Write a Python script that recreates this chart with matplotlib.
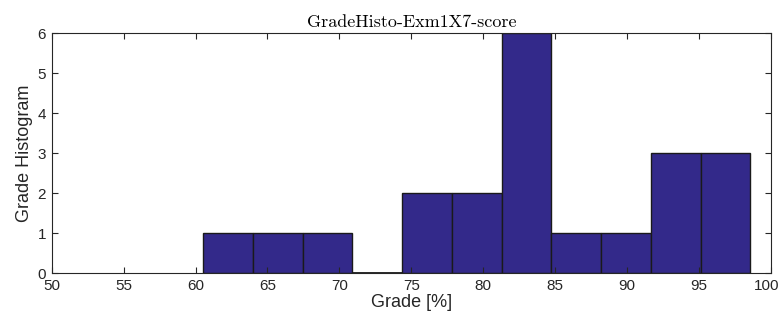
import matplotlib

matplotlib.use("Agg")
from matplotlib import pyplot as plt
from matplotlib import transforms

bin_edges = [60.52, 63.98, 67.44, 70.89, 74.35, 77.81, 81.27, 84.73, 88.18, 91.64, 95.10, 98.55]
counts = [1, 1, 1, 0, 2, 2, 6, 1, 1, 3, 3]
x_ticks = [50, 55, 60, 65, 70, 75, 80, 85, 90, 95, 100]
y_ticks = [0, 1, 2, 3, 4, 5, 6]

plt.rcParams["font.family"] = ["Liberation Sans", "DejaVu Sans"]

fig = plt.figure(figsize=(7.82, 3.22), dpi=100)
ax = fig.add_axes([0.0661, 0.152, 0.9199, 0.7455])

ax.hist(bin_edges[:-1], bins=bin_edges, weights=counts,
        facecolor="#33298a", edgecolor="#1a1a1a", linewidth=1.0)
# empty bin drawn as a flat dark line, like the reference
ax.hlines(0, bin_edges[3], bin_edges[4], color="#1a1a1a", linewidth=2)

ax.set_xlim(50, 100)
ax.set_ylim(0, 6)
ax.set_xticks(x_ticks)
ax.set_yticks(y_ticks)
ax.tick_params(direction="in", top=True, right=True, length=4, width=0.8,
               labelsize=11, colors="#262626", pad=4)
for s in ax.spines.values():
    s.set_color("#262626")
    s.set_linewidth(0.8)

# keep the "100" label inside the figure
last = ax.get_xticklabels()[-1]
last.set_transform(last.get_transform() + transforms.ScaledTranslation(-4 / 100, 0, fig.dpi_scale_trans))

ax.set_xlabel("Grade [%]", fontsize=13, color="#262626", labelpad=1)
ax.set_ylabel("Grade Histogram", fontsize=13, color="#262626", labelpad=3)
ax.set_title("GradeHisto-Exm1X7-score", fontname="cmr10", fontsize=13, pad=4)

fig.savefig("out.png", dpi=100)
